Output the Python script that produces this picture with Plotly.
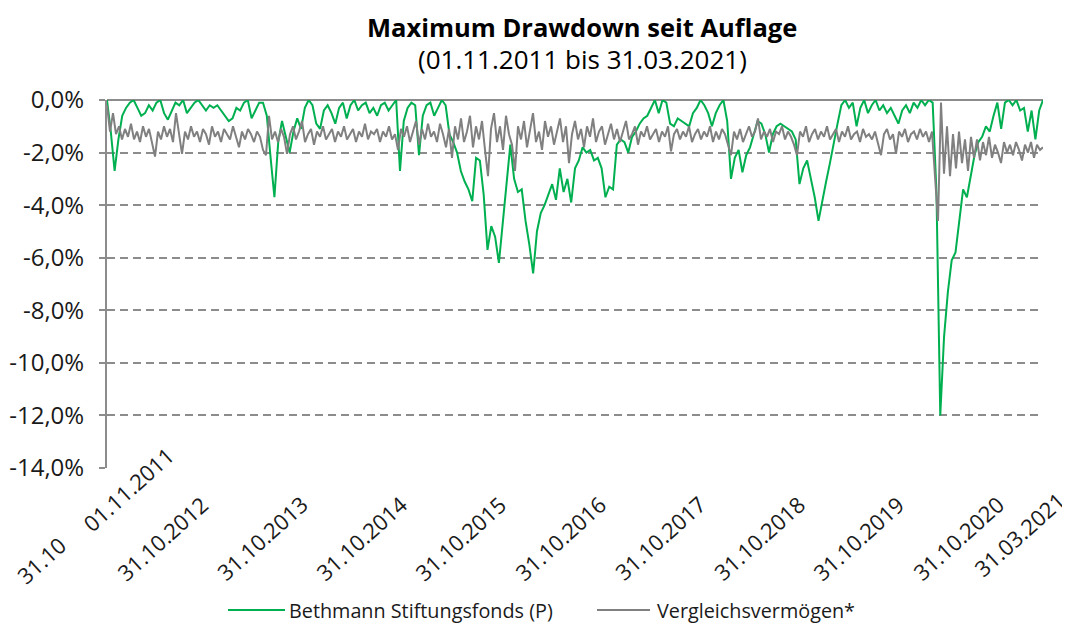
import plotly.graph_objects as go
import pandas as pd

title = "Maximum Drawdown seit Auflage"
subtitle = "(01.11.2011 bis 31.03.2021)"
series_names = ["Bethmann Stiftungsfonds (P)", "Vergleichsvermögen*"]
start_date = "2011-11-01"
end_date = "2021-03-31"

y_tick_vals = [0, -2, -4, -6, -8, -10, -12, -14]
y_tick_text = ["0,0%", "-2,0%", "-4,0%", "-6,0%", "-8,0%", "-10,0%", "-12,0%", "-14,0%"]

x_tick_dates = ["2011-11-01", "2011-11-01", "2012-10-31", "2013-10-31", "2014-10-31", "2015-10-31",
                "2016-10-31", "2017-10-31", "2018-10-31", "2019-10-31", "2020-10-31", "2021-03-31"]
x_tick_text = ["31.10", "01.11.2011", "31.10.2012", "31.10.2013", "31.10.2014", "31.10.2015",
               "31.10.2016", "31.10.2017", "31.10.2018", "31.10.2019", "31.10.2020", "31.03.2021"]

# Drawdown in % (fund)
fund = [
    0.0, -1.2, -2.7, -1.5, -0.6, -0.3, -0.1, 0.0, -0.3, -0.6,
    -0.5, -0.2, -0.4, -0.1, 0.0, -0.5, -0.75, -0.4, -0.1, -0.2,
    0.0, -0.5, -0.3, -0.1, 0.0, -0.2, -0.4, -0.2, -0.3, -0.2,
    -0.4, -0.6, -0.8, -0.7, -0.3, -0.4, -0.1, 0.0, -0.7, -0.4,
    -0.1,
    -0.1, -0.6, -2.2, -3.7, -1.6, -0.8, -1.4, -2.0, -1.2, -0.7,
    -1.1, -0.3, 0.0, -0.2, -0.9, -1.1, -0.4, -0.2, -0.5, -0.9,
    -0.3, -0.1, -0.7, -0.2, 0.0, -0.4, -0.2, -0.1, -0.5, -0.3,
    -0.6, -0.2, -0.1, -0.4, -0.2, 0.0, -2.7, -0.8, -0.3, -0.1,
    -0.2, -2.1, -0.6, -0.2, -0.1, -0.6, -0.3, 0.0, -0.2, -1.3,
    -1.6, -2.0, -2.7, -3.1, -3.4, -3.85, -2.2, -2.3, -3.6, -5.7,
    -4.8, -5.2, -6.2, -4.7, -3.2, -1.7, -3.0, -3.5, -3.4, -4.6,
    -5.5, -6.6, -5.0, -4.3, -4.0, -3.6, -3.2, -3.8, -2.6, -3.5,
    -3.0, -3.9, -2.6, -2.3, -1.8, -2.0, -1.9, -2.3, -2.2, -2.6,
    -3.7, -3.3, -3.4, -1.7, -1.5, -1.6, -2.0, -1.4, -1.2, -0.9,
    -0.7, -0.6, -0.3, 0.0, -0.5, 0.0, -0.1, -0.9, -1.0, -0.7,
    -0.8, -0.9, -1.0, -0.5, -0.3, 0.0, -0.2, -0.5, -1.0, -0.5,
    -0.2, 0.0, -0.8, -3.0, -2.2, -1.9, -2.75, -2.1, -1.8, -1.3,
    -0.8, -0.9, -1.3, -2.0, -1.3, -1.0, -0.9, -1.0, -1.1, -1.2,
    -1.5, -3.2, -2.6, -2.3, -3.0, -3.7, -4.6, -3.8, -3.1, -2.4,
    -1.6, -0.9, -0.2, 0.0, -0.3, -0.1, -1.0, -0.3, 0.0, -0.5,
    -0.2, 0.0, -0.4, -0.2, -0.5, -0.3, -0.6, -0.9, -0.4, -0.2,
    -0.5, -0.1, -0.3, 0.0, -0.2, 0.0, -0.1, -3.5, -12.0, -9.0,
    -7.3, -6.1, -5.8, -4.5, -3.4, -3.7, -2.9, -2.1, -1.6, -1.4,
    -1.0, -1.2, -0.6, -0.1, -1.1, -0.1, 0.0, -0.2, 0.0, -0.4,
    -0.3, -1.2, -0.4, -1.5, -0.4, 0.0,
]

# Drawdown in % (comparison portfolio)
benchmark = [
    -0.2, -1.2, -0.5, -1.3, -1.0, -1.5, -1.1, -1.4, -0.9, -1.5,
    -1.2, -1.6, -1.0, -1.4, -1.1, -1.7, -2.15, -1.2, -1.5, -1.0,
    -1.4, -1.1, -1.6, -0.5, -1.3, -2.05, -1.2, -1.5, -1.0, -1.4,
    -1.2, -1.6, -1.1, -1.3, -1.7, -1.0, -1.4, -1.2, -1.6, -1.1,
    -1.3, -1.5, -1.0, -1.4, -1.8, -1.2, -1.5, -1.1, -1.3, -1.6,
    -1.2, -1.4, -1.9, -2.1, -0.6, -1.5, -1.2, -1.6, -1.1, -1.4,
    -2.05, -1.3, -1.0, -1.5, -1.2, -0.8, -1.6, -1.3, -1.1, -1.7,
    -1.2, -1.4, -1.0, -1.5, -1.3, -1.1, -1.6, -1.2, -1.4, -1.0,
    -1.5, -1.3, -1.1, -1.6, -1.2, -1.4, -0.9, -1.5, -1.2, -1.3,
    -1.1, -1.6, -1.2, -1.4, -1.0, -1.5, -1.3, -1.9, -1.1, -1.4,
    -1.0, -1.6, -1.2, -0.8, -1.7, -1.1, -1.5, -0.9, -1.4, -1.2,
    -1.6, -0.9, -1.3, -1.8, -1.1, -2.2, -1.0, -1.5, -0.7, -1.6,
    -1.2, -0.6, -1.8, -1.0, -1.5, -0.8, -1.9, -2.9, -1.1, -0.5,
    -1.6, -1.0, -1.9, -0.6, -1.3, -1.7, -2.7, -1.0, -1.5, -0.8,
    -1.8, -1.1, -0.5, -1.6, -1.2, -1.9, -0.8, -1.4, -1.0, -1.7,
    -1.2, -0.7, -1.6, -1.0, -2.4, -1.3, -0.8, -1.5, -1.1, -1.8,
    -1.0, -1.4, -0.7, -1.6, -1.2, -1.0, -1.7, -1.3, -0.9, -1.5,
    -1.1, -1.6, -1.2, -0.8, -1.5, -1.3, -1.0, -1.7, -1.2, -1.4,
    -1.0, -1.5, -1.3, -1.1, -1.6, -1.2, -1.4, -1.0, -1.95, -1.3,
    -1.1, -1.5, -1.2, -1.4, -1.0, -1.6, -1.3, -1.1, -1.5, -1.2,
    -1.4, -1.0, -1.6, -1.2, -1.5, -1.1, -1.3, -1.7, -2.1, -1.2,
    -1.5, -1.1, -1.6, -1.3, -1.0, -1.4, -1.2, -0.7, -1.5, -1.2,
    -1.4, -1.1, -1.6, -1.2, -1.3, -1.0, -1.5, -1.2, -1.4, -1.7,
    -2.1, -1.2, -1.4, -1.0, -1.6, -1.3, -1.1, -1.5, -1.2, -1.4,
    -1.0, -1.5, -1.3, -1.1, -1.6, -1.2, -1.4, -1.0, -1.5, -1.3,
    -1.2, -1.6, -1.1, -1.4, -1.3, -1.5, -1.2, -1.7, -2.1, -1.3,
    -1.1, -1.5, -1.3, -2.05, -1.2, -1.4, -1.1, -1.6, -1.3, -1.2,
    -1.5, -1.1, -1.4, -1.2, -1.6, -1.2, -3.0, -4.6, -0.1, -2.8,
    -1.0, -2.9, -1.3, -2.6, -1.2, -2.4, -1.5, -2.7, -1.4, -2.2,
    -1.5, -2.3, -1.6, -2.1, -1.4, -2.2, -1.7, -2.0, -2.4, -1.6,
    -2.0, -1.7, -2.1, -1.6, -1.9, -2.3, -1.7, -2.0, -1.6, -2.2,
    -1.7, -1.9, -1.8,
]

GREEN = "#00B050"
GREY = "#808080"
AXC = "#8c8c8c"
TXT = "#1a1a1a"
FONT = "Open Sans"

fund_dates = pd.date_range(start_date, end_date, periods=len(fund))
bench_dates = pd.date_range(start_date, end_date, periods=len(benchmark))

fig = go.Figure()
fig.add_trace(go.Scatter(x=fund_dates, y=fund, mode="lines", name=series_names[0],
                         line=dict(color=GREEN, width=2), showlegend=False))
fig.add_trace(go.Scatter(x=bench_dates, y=benchmark, mode="lines", name=series_names[1],
                         line=dict(color=GREY, width=2), showlegend=False))

# the page body has an 8px margin, so the figure is drawn 8px smaller
OFF = 8
W, H = 1070 - OFF, 625 - OFF
PL, PT, PR, PB = 107, 100, 1043, 468   # plot box in window pixels
L, T = PL - OFF, PT - OFF
pw, ph = PR - PL, PB - PT
R, B = W - L - pw, H - T - ph


def px(X):
    return (X - PL) / pw


def py(Y):
    return (PB - Y) / ph


annotations = []
annotations.append(dict(text="<b>" + title + "</b>", x=px(582), y=py(27), xref="paper", yref="paper",
                        showarrow=False, xanchor="center", yanchor="middle",
                        font=dict(family=FONT, size=25.5, color="#000")))
annotations.append(dict(text=subtitle, x=px(582), y=py(59), xref="paper", yref="paper",
                        showarrow=False, xanchor="center", yanchor="middle",
                        font=dict(family=FONT, size=26, color="#000")))

# slanted date labels, each placed by the centre of its label box (offset from its date, in px)
label_offsets = {"31.10": (-66, 560), "01.11.2011": (21, 489), "31.03.2021": (-24, 534)}
for d, t in zip(x_tick_dates, x_tick_text):
    dx, cy = label_offsets.get(t, (-44, 538))
    annotations.append(dict(text=t, x=d, xref="x", y=py(cy), yref="paper", showarrow=False,
                            textangle=-42, xanchor="center", yanchor="middle", xshift=dx,
                            font=dict(family=FONT, size=22, color=TXT)))

# legend (drawn manually)
shapes = []
leg_y = py(610)
for (x0, x1, xt), name, col in zip([(228, 285, 287), (597, 650, 655)], series_names, [GREEN, GREY]):
    shapes.append(dict(type="line", xref="paper", yref="paper", x0=px(x0), x1=px(x1), y0=leg_y, y1=leg_y,
                       line=dict(color=col, width=2)))
    annotations.append(dict(text=name, x=px(xt), y=leg_y, xref="paper", yref="paper", showarrow=False,
                            xanchor="left", yanchor="middle",
                            font=dict(family=FONT, size=19.8, color=TXT)))

fig.update_layout(
    width=W, height=H,
    margin=dict(l=L, r=R, t=T, b=B, autoexpand=False),
    plot_bgcolor="white", paper_bgcolor="white",
    font=dict(family=FONT, color=TXT),
    annotations=annotations, shapes=shapes,
    showlegend=False,
)
fig.update_xaxes(type="date", range=[start_date, end_date], showgrid=False, showticklabels=False,
                 ticks="", showline=False, zeroline=False, automargin=False)
fig.update_yaxes(range=[-14, 0], tickvals=y_tick_vals, ticktext=y_tick_text,
                 showgrid=True, gridcolor=AXC, gridwidth=1.5, griddash="8px,5px",
                 zeroline=True, zerolinecolor=AXC, zerolinewidth=2,
                 showline=True, linecolor=AXC, linewidth=2,
                 ticks="outside", ticklen=6, tickwidth=1.5, tickcolor=AXC,
                 ticklabelstandoff=10, automargin=False,
                 tickfont=dict(family=FONT, size=24, color=TXT))

fig.write_html("out.html")
